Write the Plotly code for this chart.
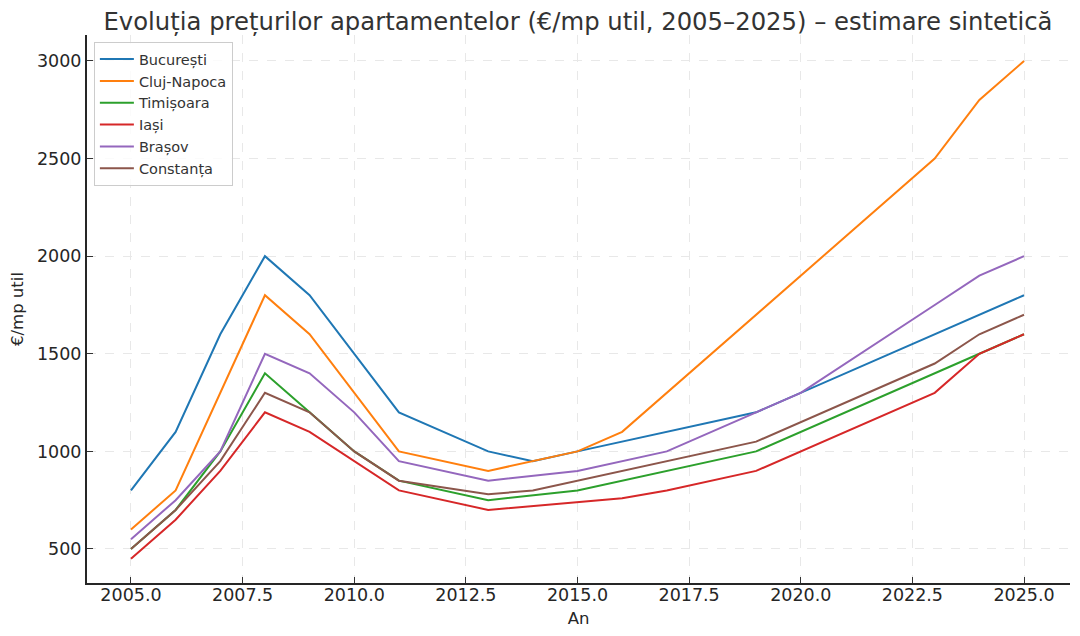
import plotly.graph_objects as go

# Data
years_buc = [2005, 2006, 2007, 2008, 2009, 2011, 2013, 2014, 2015, 2019, 2025]
buc = [800, 1100, 1600, 2000, 1800, 1200, 1000, 950, 1000, 1200, 1800]

years_cluj = [2005, 2006, 2008, 2009, 2011, 2013, 2015, 2016, 2023, 2024, 2025]
cluj = [600, 800, 1800, 1600, 1000, 900, 1000, 1100, 2500, 2800, 3000]

years_tim = [2005, 2006, 2007, 2008, 2009, 2010, 2011, 2013, 2015, 2019, 2024, 2025]
tim = [500, 700, 1000, 1400, 1200, 1000, 850, 750, 800, 1000, 1500, 1600]

years_ias = [2005, 2006, 2007, 2008, 2009, 2011, 2013, 2015, 2016, 2017, 2019, 2023, 2024, 2025]
ias = [450, 650, 900, 1200, 1100, 800, 700, 740, 760, 800, 900, 1300, 1500, 1600]

years_bra = [2005, 2006, 2007, 2008, 2009, 2010, 2011, 2013, 2015, 2017, 2019, 2020, 2023, 2024, 2025]
bra = [550, 750, 1000, 1500, 1400, 1200, 950, 850, 900, 1000, 1200, 1300, 1750, 1900, 2000]

years_cst = [2005, 2006, 2007, 2008, 2009, 2010, 2011, 2013, 2014, 2019, 2023, 2024, 2025]
cst = [500, 700, 950, 1300, 1200, 1000, 850, 780, 800, 1050, 1450, 1600, 1700]

series = [
    ("București", years_buc, buc, "#1f77b4"),
    ("Cluj-Napoca", years_cluj, cluj, "#ff7f0e"),
    ("Timișoara", years_tim, tim, "#2ca02c"),
    ("Iași", years_ias, ias, "#d62728"),
    ("Brașov", years_bra, bra, "#9467bd"),
    ("Constanța", years_cst, cst, "#8c564b"),
]

x_ticks = [2005.0, 2007.5, 2010.0, 2012.5, 2015.0, 2017.5, 2020.0, 2022.5, 2025.0]
x_tick_labels = ["2005.0", "2007.5", "2010.0", "2012.5", "2015.0", "2017.5", "2020.0", "2022.5", "2025.0"]
y_ticks = [500, 1000, 1500, 2000, 2500, 3000]

fig = go.Figure()
for name, xs, ys, color in series:
    fig.add_trace(go.Scatter(x=xs, y=ys, mode="lines", name=name,
                             line=dict(color=color, width=2)))

font_family = "DejaVu Sans"
fig.update_layout(
    width=1064, height=620,
    paper_bgcolor="white", plot_bgcolor="white",
    margin=dict(l=79, r=2, t=27, b=45, autoexpand=False),
    font=dict(family=font_family, color="#262626"),
    title=dict(text="Evoluția prețurilor apartamentelor (€/mp util, 2005–2025) – estimare sintetică",
               x=0.5357, xanchor="center", y=0.979, yanchor="middle",
               font=dict(size=24.3, color="#333333"), automargin=False),
    showlegend=True,
    legend=dict(x=0.007, y=0.987, xanchor="left", yanchor="top",
                bgcolor="rgba(255,255,255,0.8)", bordercolor="#cccccc", borderwidth=1,
                font=dict(size=14.5, color="#333333"), tracegroupgap=0,
                itemwidth=34),
)
fig.update_xaxes(
    range=[2004.015, 2026.03], tickvals=x_ticks, ticktext=x_tick_labels,
    ticks="inside", ticklen=6, tickcolor="#333333", automargin=False,
    ticklabelstandoff=-5,
    showline=True, linecolor="#262626", linewidth=2,
    showgrid=True, gridcolor="#e8e8e8", griddash="dash", gridwidth=1,
    zeroline=False, tickfont=dict(size=17.5, color="#262626"),
    title=dict(text="An", font=dict(size=16.5, color="#262626"), standoff=11),
)
fig.update_yaxes(
    range=[325.8, 3133], tickvals=y_ticks,
    ticks="inside", ticklen=6, tickcolor="#333333", automargin=False,
    showline=True, linecolor="#262626", linewidth=2,
    showgrid=True, gridcolor="#e8e8e8", griddash="dash", gridwidth=1,
    zeroline=False, tickfont=dict(size=17.5, color="#262626"),
    title=dict(text="€/mp util", font=dict(size=16.5, color="#262626"), standoff=10),
)

fig.write_html("out.html")
